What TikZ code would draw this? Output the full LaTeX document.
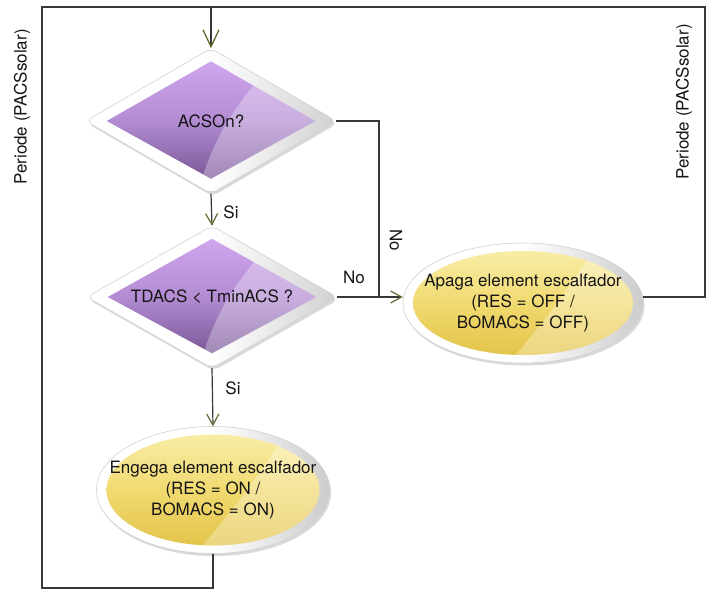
\documentclass[tikz,border=0pt]{standalone}
\usepackage{fontspec}
\setmainfont{TeX Gyre Heros}
\usetikzlibrary{shapes.geometric,arrows.meta,calc,shadows}
\definecolor{linec}{HTML}{383838}
\definecolor{tipc}{HTML}{5E6B2E}
\definecolor{txtc}{HTML}{151515}
\definecolor{purL}{HTML}{D0A6EE}
\definecolor{purM}{HTML}{B38CD4}
\definecolor{purD}{HTML}{7A5896}
\definecolor{yelL}{HTML}{F8EDA6}
\definecolor{yelM}{HTML}{F1DA70}
\definecolor{yelD}{HTML}{E3C44A}
\pgfdeclarelayer{bg}
\pgfsetlayers{bg,main}
\begin{document}
\begin{tikzpicture}[x=1pt,y=-1pt,
  txt/.style={font=\fontsize{17}{21}\selectfont, text=txtc, align=center},
  dia/.style={diamond, aspect=1.724, minimum width=250pt, minimum height=145pt, inner sep=0pt, txt},
  ell/.style={ellipse, inner sep=0pt},
  lbl/.style={txt, inner sep=0pt},
  outerd/.style={draw=black!18, line width=0.6pt, rounded corners=7pt, left color=white, right color=black!18, middle color=white,
     drop shadow={opacity=0.3, shadow xshift=1.5pt, shadow yshift=-2.5pt}},
  outere/.style={draw=black!18, line width=0.6pt, left color=white, right color=black!20, middle color=white,
     drop shadow={opacity=0.3, shadow xshift=1.5pt, shadow yshift=-2.5pt}},
  purp/.style={top color=purL, bottom color=purD, middle color=purM},
  yel/.style={top color=yelL, bottom color=yelD, middle color=yelM},
  hl/.style={white, opacity=0.3},
  conn/.style={draw=linec, line width=1.2pt},
  arr/.style={conn, -{Straight Barb[length=11pt,width=12pt,line width=1.2pt,color=tipc]}},
  bigarr/.style={conn, -{Straight Barb[length=17pt,width=16pt,line width=1.3pt,color=tipc]}}
]
\useasboundingbox (0,0) rectangle (709,597);

% shapes
\node[dia] (d1) at (211,121) {ACSOn?};
\node[dia, minimum height=142pt] (d2) at (212,297) {TDACS < TminACS ?};
\node[ell, minimum width=233pt, minimum height=127pt] (e1) at (213,490) {};
\node[ell, minimum width=240pt, minimum height=120pt] (e2) at (523,303) {};
\node[txt] (e1t) at (e1.center) {Engega element escalfador\\(RES = ON /\\BOMACS = ON)};
\node[txt] (e2t) at (e2.center) {Apaga element escalfador\\(RES = OFF /\\BOMACS = OFF)};

% decoration
\begin{pgfonlayer}{bg}
\foreach \n in {d1,d2} {
  \path[outerd] (\n.north) -- (\n.east) -- (\n.south) -- (\n.west) -- cycle;
  \path[purp] ($(\n.north)+(0,13)$) -- ($(\n.east)+(-21,0)$) -- ($(\n.south)+(0,-15)$) -- ($(\n.west)+(21,0)$) -- cycle;
  \begin{scope}
    \clip ($(\n.north)+(0,13)$) -- ($(\n.east)+(-21,0)$) -- ($(\n.south)+(0,-15)$) -- ($(\n.west)+(21,0)$) -- cycle;
    \fill[hl] ($(\n.center)+(48,-42)$) .. controls ($(\n.center)+(17,-6)$) and ($(\n.center)+(1,24)$) .. ($(\n.center)+(-11,64)$)
       -- ($(\n.center)+(140,64)$) -- ($(\n.center)+(140,-42)$) -- cycle;
  \end{scope}
}
\foreach \n/\rx/\ry in {e1/116.5/63.5,e2/120/60} {
  \path[outere] (\n.center) ellipse [x radius=\rx pt, y radius=\ry pt];
  \path[yel] (\n.center) ellipse [x radius=\rx pt-10pt, y radius=\ry pt-8pt];
  \begin{scope}
    \clip (\n.center) ellipse [x radius=\rx pt-10pt, y radius=\ry pt-8pt];
    \fill[hl] ($(\n.center)+(75,-60)$) .. controls ($(\n.center)+(42,-8)$) and ($(\n.center)+(12,30)$) .. ($(\n.center)+(-18,64)$)
       -- ($(\n.center)+(140,64)$) -- ($(\n.center)+(140,-60)$) -- cycle;
  \end{scope}
}
\end{pgfonlayer}

% loop coordinates
\coordinate (tl) at (42,7);
\coordinate (tr) at (705,7);
\coordinate (bl) at (42,588);
\coordinate (jn) at (379,297);

% connectors
\draw[conn] (e1.south) -- (e1.south |- bl) -- (bl) -- (tl) -- (tr) -- (tr |- d2.center) -- (e2.east |- d2.center);
\draw[bigarr] (d1.north |- tl) -- (d1.north);
\draw[arr] (d1.south) -- (d2.north);
\draw[arr] (d2.south) -- (e1.north);
\draw[conn] (d1.east) -| (jn);
\draw[arr] (d2.east) -- (e2.west |- d2.center);

% labels
\node[lbl] (si1) at (231,212) {Si};
\node[lbl] (si2) at (233,388) {Si};
\node[lbl] (no1) at (354,277) {No};
\node[lbl, rotate=-90] (no2) at (396,240) {No};
\node[lbl, rotate=90] (per1) at (22,107) {Periode (PACSsolar)};
\node[lbl, rotate=90] (per2) at (684,102) {Periode (PACSsolar)};
\end{tikzpicture}
\end{document}
